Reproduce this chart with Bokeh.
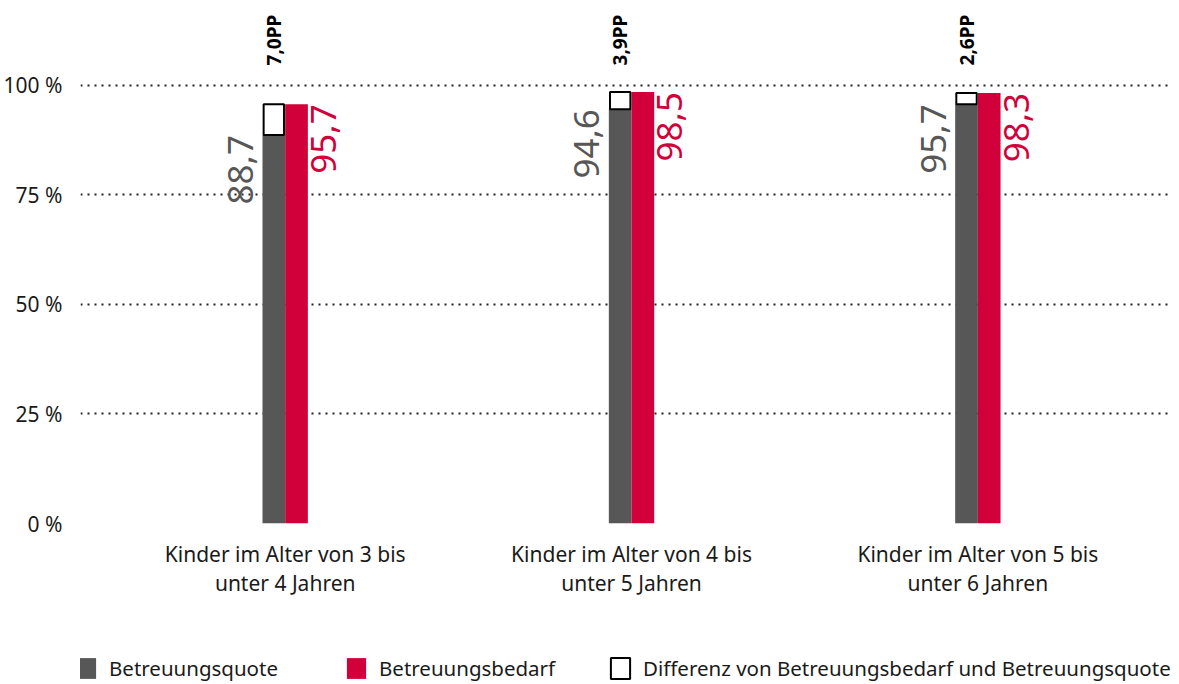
import math
from bokeh.plotting import figure
from bokeh.layouts import column
from bokeh.models import ColumnDataSource, Range1d, FixedTicker, Legend, LegendItem
from bokeh.core.properties import value
from bokeh.embed import file_html
from bokeh.resources import INLINE

# ---- data ----
categories = ["Kinder im Alter von 3 bis\nunter 4 Jahren",
              "Kinder im Alter von 4 bis\nunter 5 Jahren",
              "Kinder im Alter von 5 bis\nunter 6 Jahren"]
quote = [88.7, 94.6, 95.7]      # Betreuungsquote
bedarf = [95.7, 98.5, 98.3]     # Betreuungsbedarf
y_ticks = [0, 25, 50, 75, 100]
y_tick_labels = ["0 %", "25 %", "50 %", "75 %", "100 %"]
legend_labels = ["Betreuungsquote", "Betreuungsbedarf",
                 "Differenz von Betreuungsbedarf und Betreuungsquote"]

FONT = "Noto Sans"
GREY = "#575757"
RED = "#d2003a"
TXT = "#1a1a1a"

xs = list(range(len(categories)))
bw = 0.0655
diff = [round(b - q, 1) for q, b in zip(quote, bedarf)]

src = ColumnDataSource(dict(
    xd=[x - bw / 2 for x in xs],
    xr=[x + bw / 2 for x in xs],
    xdl=[x - bw for x in xs],
    xrr=[x + bw for x in xs],
    quote=quote,
    bedarf=bedarf,
    ql=[f"{v:.1f}".replace(".", ",") for v in quote],
    bl=[f"{v:.1f}".replace(".", ",") for v in bedarf],
    dl=[f"{v:.1f}PP".replace(".", ",") for v in diff],
    top100=[100] * len(xs),
))


def add_bars(fig, source):
    rq = fig.vbar(x="xd", top="quote", bottom=0, width=bw, source=source,
                  fill_color=GREY, line_color=None)
    rb = fig.vbar(x="xr", top="bedarf", bottom=0, width=bw, source=source,
                  fill_color=RED, line_color=None)
    rd = fig.vbar(x="xd", top="bedarf", bottom="quote", width=bw * 0.9,
                  source=source, fill_color="white", line_color="black",
                  line_width=2)
    return rq, rb, rd


p = figure(width=1179, height=640, output_backend="svg", toolbar_location=None,
           x_range=Range1d(-0.591, 2.562), y_range=Range1d(0, 118.26),
           min_border_left=78, min_border_right=7, min_border_top=5,
           min_border_bottom=117)
p.outline_line_color = None
p.background_fill_color = "white"

add_bars(p, src)

# value labels
p.text(x="xdl", y="quote", text="ql", source=src, angle=math.pi / 2,
       text_align="right", text_baseline="middle", x_offset=-22,
       text_font=value(FONT), text_font_size="35px", text_color=GREY)
p.text(x="xrr", y="bedarf", text="bl", source=src, angle=math.pi / 2,
       text_align="right", text_baseline="top", x_offset=3,
       text_font=value(FONT), text_font_size="35px", text_color=RED)
p.text(x="xd", y="top100", text="dl", source=src, angle=math.pi / 2,
       text_align="left", text_baseline="middle", y_offset=-20,
       text_font=value(FONT), text_font_size="19px", text_font_style="bold",
       text_color="black")

# axes
p.xaxis.ticker = FixedTicker(ticks=xs)
p.xaxis.major_label_overrides = {x: c for x, c in zip(xs, categories)}
p.xaxis.axis_line_color = None
p.xaxis.major_tick_line_color = None
p.xaxis.minor_tick_line_color = None
p.xaxis.major_label_standoff = 10
p.xaxis.major_label_text_font = FONT
p.xaxis.major_label_text_font_size = "21px"
p.xaxis.major_label_text_color = TXT
p.xaxis.major_label_text_line_height = 1.05

p.yaxis.ticker = FixedTicker(ticks=y_ticks)
p.yaxis.major_label_overrides = {t: l for t, l in zip(y_ticks, y_tick_labels)}
p.yaxis.axis_line_color = None
p.yaxis.major_tick_line_color = None
p.yaxis.minor_tick_line_color = None
p.yaxis.major_label_standoff = 12
p.yaxis.major_label_text_font = FONT
p.yaxis.major_label_text_font_size = "21px"
p.yaxis.major_label_text_color = TXT

p.xgrid.grid_line_color = None
p.ygrid.ticker = FixedTicker(ticks=y_ticks)
p.ygrid.grid_line_color = "#222222"
p.ygrid.grid_line_dash = "2 5"
p.ygrid.grid_line_width = 2

# ---- legend strip: hidden proxy renderers with the same styles ----
lf = figure(width=1179, height=44, output_backend="svg", toolbar_location=None,
            x_axis_type=None, y_axis_type=None,
            x_range=Range1d(-0.591, 2.562), y_range=Range1d(0, 118.26),
            min_border_left=78, min_border_right=7,
            min_border_top=0, min_border_bottom=0)
lf.outline_line_color = None
lf.xgrid.grid_line_color = None
lf.ygrid.grid_line_color = None
lrs = add_bars(lf, src)
for r in lrs:
    r.visible = False

for r, lab, lx in zip(lrs, legend_labels, [-6, 264, 528]):
    lg = Legend(items=[LegendItem(label=lab, renderers=[r])],
                location=(lx, 2), orientation="horizontal",
                padding=0, margin=0, border_line_color=None,
                background_fill_alpha=0, glyph_width=24, glyph_height=26,
                label_standoff=11, label_text_font=FONT,
                label_text_font_size="20.5px", label_text_color=TXT,
                label_height=26)
    lf.add_layout(lg, "center")

open("out.html", "w").write(file_html(column(p, lf), INLINE))
